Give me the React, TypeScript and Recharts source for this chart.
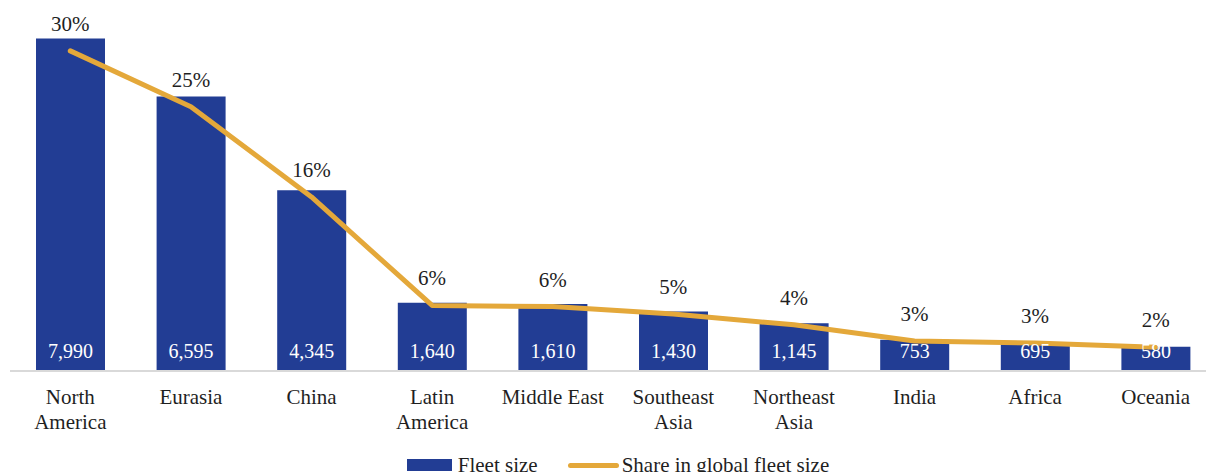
import React from 'react'
import {
  Bar,
  ComposedChart,
  LabelList,
  Legend,
  Line,
  XAxis,
  YAxis
} from 'recharts'

const categories = [
  'North\nAmerica',
  'Eurasia',
  'China',
  'Latin\nAmerica',
  'Middle East',
  'Southeast\nAsia',
  'Northeast\nAsia',
  'India',
  'Africa',
  'Oceania'
]
const fleetSize = [7990, 6595, 4345, 1640, 1610, 1430, 1145, 753, 695, 580]
const sharePct = [29.8, 24.6, 16.2, 6.1, 6.0, 5.3, 4.3, 2.8, 2.6, 2.2]

const barColor = '#223d94'
const lineColor = '#e4a83a'
const font = '"Liberation Serif", "Times New Roman", serif'
const textColor = '#1f1f1f'

const data = categories.map((name, i) => ({
  name,
  fleet: fleetSize[i],
  share: sharePct[i]
}))

function CategoryTick(props: any) {
  const { x, y, payload } = props
  const lines = String(payload.value).split('\n')
  return (
    <g transform={`translate(${x},${y})`}>
      {lines.map((line: string, i: number) => (
        <text
          key={i}
          x={0}
          y={25 + i * 25}
          textAnchor="middle"
          fill={textColor}
          fontFamily={font}
          fontSize={21}
        >
          {line}
        </text>
      ))}
    </g>
  )
}

function ChartLegend() {
  return (
    <div
      style={{
        display: 'flex',
        justifyContent: 'center',
        alignItems: 'center',
        height: 30,
        paddingLeft: 10,
        fontFamily: font,
        fontSize: 21,
        color: textColor
      }}
    >
      <span style={{ width: 45, height: 12, background: barColor, display: 'inline-block' }} />
      <span style={{ marginLeft: 6 }}>Fleet size</span>
      <span
        style={{
          width: 51,
          height: 5,
          borderRadius: 3,
          background: lineColor,
          display: 'inline-block',
          marginLeft: 30
        }}
      />
      <span style={{ marginLeft: 3 }}>Share in global fleet size</span>
    </div>
  )
}

export default function App() {
  return (
    <div
      style={{
        position: 'absolute',
        left: 0,
        top: 0,
        width: 1206,
        height: 472,
        overflow: 'hidden',
        background: '#fff'
      }}
    >
      <ComposedChart
        width={1226}
        height={480}
        data={data}
        margin={{ top: 38, right: 10, bottom: 0, left: 10 }}
      >
        <XAxis
          dataKey="name"
          interval={0}
          tickLine={false}
          axisLine={{ stroke: '#d9d9d9', strokeWidth: 2 }}
          tick={<CategoryTick />}
          height={79}
        />
        <YAxis yAxisId="fleet" hide domain={[0, 8000]} />
        <YAxis yAxisId="share" hide orientation="right" domain={[0, 31]} />
        <Legend verticalAlign="bottom" height={30} content={<ChartLegend />} />
        <Bar
          yAxisId="fleet"
          dataKey="fleet"
          name="Fleet size"
          fill={barColor}
          barSize={69}
          isAnimationActive={false}
        >
          <LabelList
            dataKey="fleet"
            position="insideBottom"
            offset={13}
            fill="#ffffff"
            fontFamily={font}
            fontSize={20}
            formatter={(v: any) => Number(v).toLocaleString('en-US')}
          />
        </Bar>
        <Line
          yAxisId="share"
          dataKey="share"
          name="Share in global fleet size"
          stroke={lineColor}
          strokeWidth={5}
          strokeLinecap="round"
          strokeLinejoin="round"
          dot={false}
          activeDot={false}
          isAnimationActive={false}
        >
          <LabelList
            dataKey="share"
            position="top"
            offset={20}
            fill={textColor}
            fontFamily={font}
            fontSize={21}
            formatter={(v: any) => `${Math.round(Number(v))}%`}
          />
        </Line>
      </ComposedChart>
    </div>
  )
}
